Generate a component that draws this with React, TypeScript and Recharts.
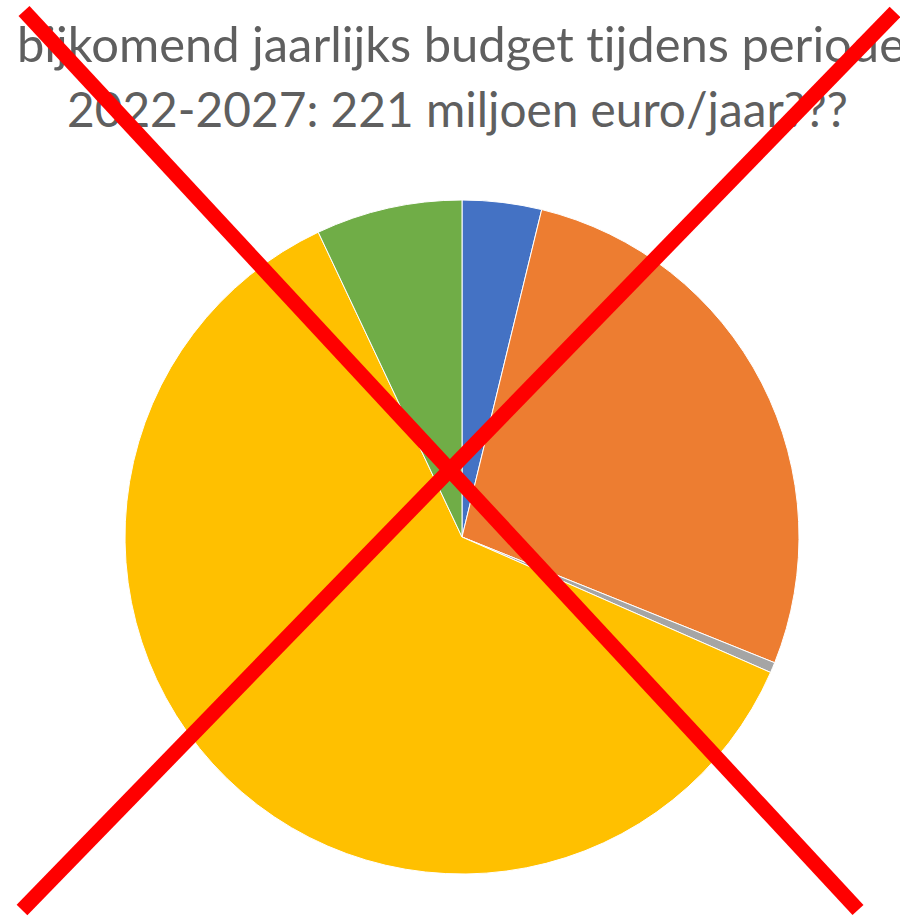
import { Cell, Pie, PieChart } from "recharts"

// budget per onderdeel (miljoen euro/jaar), met de klok mee vanaf 12 uur
const categories = ["Onderdeel 1", "Onderdeel 2", "Onderdeel 3", "Onderdeel 4", "Onderdeel 5"]
const amounts = [8.4, 60.3, 1.1, 135.7, 15.5]
const colors = ["#4472C4", "#ED7D31", "#A5A5A5", "#FFC000", "#70AD47"]

const titleLines = ["bijkomend jaarlijks budget tijdens periode", "2022-2027: 221 miljoen euro/jaar???"]

const data = categories.map((name, i) => ({ name, value: amounts[i] }))

const titleStyle = { fontVariantLigatures: "none" as const }

export default function App() {
  return (
    <div style={{ position: "absolute", left: 0, top: 0, width: 900, height: 923, background: "#fff" }}>
      <PieChart width={900} height={923} margin={{ top: 0, right: 0, bottom: 0, left: 0 }}>
        <Pie
          data={data}
          dataKey="value"
          nameKey="name"
          cx={462}
          cy={537}
          outerRadius={337}
          startAngle={90}
          endAngle={-270}
          stroke="#ffffff"
          strokeWidth={1}
          isAnimationActive={false}
        >
          {data.map((d, i) => (
            <Cell key={d.name} fill={colors[i]} />
          ))}
        </Pie>
      </PieChart>
      {/* titel en rood kruis over de grafiek */}
      <svg
        width={900}
        height={923}
        style={{ position: "absolute", left: 0, top: 0, pointerEvents: "none" }}
      >
        <text
          x={17}
          y={62}
          fill="#5f5f5f"
          fontFamily="Lato, 'Open Sans', sans-serif"
          fontSize={48}
          textLength={888}
          lengthAdjust="spacingAndGlyphs"
          style={titleStyle}
        >
          {titleLines[0]}
        </text>
        <text
          x={67}
          y={127}
          fill="#5f5f5f"
          fontFamily="Lato, 'Open Sans', sans-serif"
          fontSize={48}
          textLength={781}
          lengthAdjust="spacingAndGlyphs"
          style={titleStyle}
        >
          {titleLines[1]}
        </text>
        <line x1={24} y1={11} x2={858} y2={910} stroke="#ff0000" strokeWidth={15} />
        <line x1={895} y1={12} x2={22} y2={910} stroke="#ff0000" strokeWidth={15} />
      </svg>
    </div>
  )
}
